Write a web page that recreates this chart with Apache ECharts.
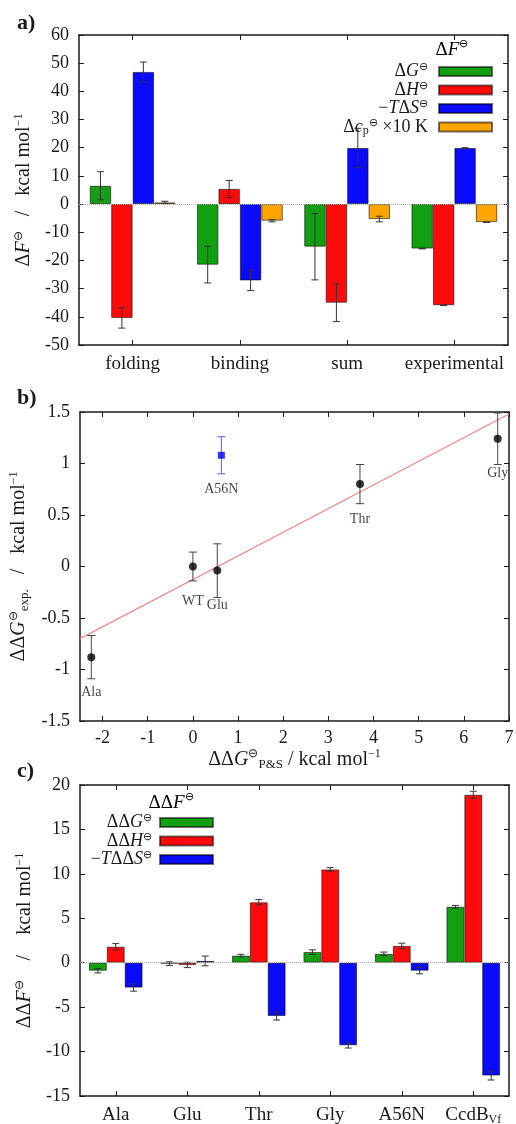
<!DOCTYPE html>
<html>
<head>
<meta charset="utf-8">
<script src="https://cdn.jsdelivr.net/npm/echarts@6/dist/echarts.min.js"></script>
<style>
  html, body { margin: 0; padding: 0; background: #fff; }
  #main { width: 516px; height: 1124px; }
</style>
</head>
<body>
<div id="main"></div>
<script>
// ---- panel a) data ----
const catsA = ['folding', 'binding', 'sum', 'experimental'];
const dG_A = [6.5, -21.5, -15.1, -15.8];
const dG_Aerr = [5.0, 6.5, 11.8, 0.1];
const dH_A = [-40.4, 5.4, -35.0, -35.9];
const dH_Aerr = [3.6, 3.0, 6.7, 0.1];
const TdS_A = [46.9, -27.1, 19.9, 19.9];
const TdS_Aerr = [3.5, 3.6, 7.0, 0.1];
const dCp_A = [0.6, -5.9, -5.3, -6.4];
const dCp_Aerr = [0.4, 0.4, 1.0, 0.1];

// ---- panel b) data ----
const ptNames = ['Ala', 'WT', 'Glu', 'Thr', 'Gly'];
const ptX = [-2.25, 0.0, 0.54, 3.70, 6.75];
const ptY = [-0.88, 0.0, -0.04, 0.80, 1.24];
const ptErr = [0.21, 0.14, 0.26, 0.19, 0.25];
const a56nName = ['A56N'];
const a56nX = [0.63];
const a56nY = [1.08];
const a56nErr = [0.18];
const fitX = [-2.5, 7];
const fitY = [-0.70, 1.48];
const xTicksB = [-2, -1, 0, 1, 2, 3, 4, 5, 6, 7];

// ---- panel c) data ----
const catsC = ['Ala', 'Glu', 'Thr', 'Gly', 'A56N', 'CcdB_Vf'];
const ddG = [-0.9, -0.1, 0.8, 1.2, 1.0, 6.3];
const ddGerr = [0.25, 0.2, 0.15, 0.25, 0.2, 0.15];
const ddH = [1.8, -0.25, 6.8, 10.5, 1.9, 18.9];
const ddHerr = [0.35, 0.3, 0.3, 0.2, 0.3, 0.4];
const TddS = [-2.8, 0.2, -6.0, -9.3, -0.9, -12.7];
const TddSerr = [0.4, 0.55, 0.45, 0.3, 0.35, 0.5];

// ---- styles ----
const FONT = 'Liberation Serif';
const INK = '#1a1a1a';
const GREEN = '#12a012', RED = '#ff0a0a', BLUE = '#0a0aff', ORANGE = '#ffa500';
const GAP_A = 0.2, GAP_C = 0.25;

function rich(size, lh) {
  lh = lh || size + 3;
  return {
    r: { fontFamily: FONT, fontSize: size, lineHeight: lh, color: INK },
    i: { fontFamily: FONT, fontSize: size, fontStyle: 'italic', lineHeight: lh, color: INK },
    sup: { fontFamily: FONT, fontSize: Math.round(size * 0.6), lineHeight: 11, verticalAlign: 'top', color: INK },
    sub: { fontFamily: FONT, fontSize: Math.round(size * 0.65), lineHeight: 10, verticalAlign: 'bottom', color: INK }
  };
}

const legendText = {
  'ΔG': '{r|Δ}{i|G}{sup|⊖}',
  'ΔH': '{r|Δ}{i|H}{sup|⊖}',
  '-TΔS': '{r|−}{i|T}{r|Δ}{i|S}{sup|⊖}',
  'Δcp': '{r|Δ}{i|c}{sub|p}{sup|⊖}{r| ×10 K}',
  'ΔΔG': '{r|ΔΔ}{i|G}{sup|⊖}',
  'ΔΔH': '{r|ΔΔ}{i|H}{sup|⊖}',
  '-TΔΔS': '{r|−}{i|T}{r|ΔΔ}{i|S}{sup|⊖}'
};

function catAxis(grid, data, pos, showLabel) {
  return {
    type: 'category', gridIndex: grid, position: pos, data: data,
    axisLine: { show: true, onZero: false, lineStyle: { color: INK, width: 1.5 } },
    axisTick: { show: true, inside: true, length: 5, alignWithLabel: true, interval: 0, lineStyle: { color: INK } },
    axisLabel: {
      show: showLabel, interval: 0, color: INK, fontFamily: FONT, fontSize: 19, margin: 8,
      formatter: v => v === 'CcdB_Vf' ? '{r|CcdB}{sub|Vf}' : '{r|' + v + '}',
      rich: rich(19)
    },
    splitLine: { show: false }
  };
}

function valAxis(grid, pos, min, max, interval, showLabel, extra) {
  return Object.assign({
    type: 'value', gridIndex: grid, position: pos, min: min, max: max, interval: interval,
    axisLine: { show: true, onZero: false, lineStyle: { color: INK, width: 1.5 } },
    axisTick: { show: true, inside: true, length: 5, lineStyle: { color: INK } },
    axisLabel: { show: showLabel, color: INK, fontFamily: FONT, fontSize: 18, margin: 10 },
    splitLine: { show: false }
  }, extra || {});
}

function errLines(x, y1, y2, cap, color) {
  const st = { stroke: color, lineWidth: 1 };
  return {
    type: 'group',
    children: [
      { type: 'line', shape: { x1: x, y1: y1, x2: x, y2: y2 }, style: st },
      { type: 'line', shape: { x1: x - cap, y1: y1, x2: x + cap, y2: y1 }, style: st },
      { type: 'line', shape: { x1: x - cap, y1: y2, x2: x + cap, y2: y2 }, style: st }
    ]
  };
}

function barErrSeries(xi, yi, vals, errs, idx, n, gap) {
  return {
    type: 'custom', xAxisIndex: xi, yAxisIndex: yi, z: 4, silent: true,
    data: vals.map((v, i) => [i, v, errs[i]]),
    encode: { x: 0, y: 1 },
    renderItem: function (params, api) {
      const ci = api.value(0), v = api.value(1), e = api.value(2);
      const band = api.size([1, 0])[0];
      const group = band * (1 - gap);
      const bw = group / n;
      const cx = api.coord([ci, 0])[0] - group / 2 + (idx + 0.5) * bw;
      const y1 = api.coord([ci, v + e])[1];
      const y2 = api.coord([ci, v - e])[1];
      return errLines(cx, y1, y2, 3.5, '#333');
    }
  };
}

function barSeries(name, xi, yi, vals, color, gap, zeroLine) {
  const s = {
    name: name, type: 'bar', xAxisIndex: xi, yAxisIndex: yi, data: vals,
    barGap: '0%', barCategoryGap: (gap * 100) + '%',
    itemStyle: { color: color, borderColor: 'rgba(0,0,0,0.55)', borderWidth: 1 }
  };
  if (zeroLine) {
    s.markLine = {
      silent: true, symbol: 'none', label: { show: false },
      lineStyle: { color: '#aaa', type: 'dotted', width: 1 },
      data: [{ yAxis: 0 }]
    };
  }
  return s;
}

function ptErrSeries(xs, ys, es, color) {
  return {
    type: 'custom', xAxisIndex: 2, yAxisIndex: 2, z: 3, silent: true, clip: false,
    data: xs.map((x, i) => [x, ys[i], es[i]]),
    encode: { x: 0, y: 1 },
    renderItem: function (params, api) {
      const x = api.value(0), y = api.value(1), e = api.value(2);
      const p1 = api.coord([x, y + e]);
      const p2 = api.coord([x, y - e]);
      return errLines(p1[0], p1[1], p2[1], 4, color);
    }
  };
}

const labelB = {
  show: true, position: 'bottom', distance: 24, color: '#111',
  fontFamily: FONT, fontSize: 14
};

const option = {
  animation: false,
  backgroundColor: '#fff',
  textStyle: { fontFamily: FONT },
  grid: [
    { left: 79, right: 8, top: 35, height: 310, containLabel: false, outerBoundsMode: 'none' },
    { left: 80, right: 7, top: 412, height: 309, containLabel: false, outerBoundsMode: 'none' },
    { left: 80, right: 7, top: 785, height: 311, containLabel: false, outerBoundsMode: 'none' }
  ],
  xAxis: [
    catAxis(0, catsA, 'bottom', true),
    catAxis(0, catsA, 'top', false),
    valAxis(1, 'bottom', -2.5, 7, null, true, {
      axisTick: { show: true, inside: true, length: 5, lineStyle: { color: INK }, customValues: xTicksB },
      axisLabel: { show: true, color: INK, fontFamily: FONT, fontSize: 18, margin: 8, customValues: xTicksB },
      name: '{r|ΔΔ}{i|G}{sup|⊖}{sub|P&S}{r| / kcal mol}{sup|−1}',
      nameLocation: 'middle', nameGap: 24,
      nameTextStyle: { rich: rich(20) }
    }),
    valAxis(1, 'top', -2.5, 7, null, false, {
      axisTick: { show: true, inside: true, length: 5, lineStyle: { color: INK }, customValues: xTicksB }
    }),
    catAxis(2, catsC, 'bottom', true),
    catAxis(2, catsC, 'top', false)
  ],
  yAxis: [
    valAxis(0, 'left', -50, 60, 10, true, {
      name: '{r|Δ}{i|F}{sup|⊖}{r|   /   kcal mol}{sup|−1}',
      nameLocation: 'middle', nameGap: 42, nameTextStyle: { rich: rich(20) }
    }),
    valAxis(0, 'right', -50, 60, 10, false),
    valAxis(1, 'left', -1.5, 1.5, 0.5, true, {
      name: '{r|ΔΔ}{i|G}{sup|⊖}{sub|exp.}{r|   /   kcal mol}{sup|−1}',
      nameLocation: 'middle', nameGap: 42, nameTextStyle: { rich: rich(20) }
    }),
    valAxis(1, 'right', -1.5, 1.5, 0.5, false),
    valAxis(2, 'left', -15, 20, 5, true, {
      name: '{r|ΔΔ}{i|F}{sup|⊖}{r|    /    kcal mol}{sup|−1}',
      nameLocation: 'middle', nameGap: 42, nameTextStyle: { rich: rich(20) }
    }),
    valAxis(2, 'right', -15, 20, 5, false)
  ],
  legend: [
    {
      data: ['ΔG', 'ΔH', '-TΔS', 'Δcp'], orient: 'vertical', align: 'right',
      right: 18, top: 57, itemWidth: 53, itemHeight: 9, itemGap: 0, icon: 'rect',
      selectedMode: false, formatter: n => legendText[n],
      textStyle: { rich: rich(18, 19), padding: [0, 6, 0, 0] }
    },
    {
      data: ['ΔΔG', 'ΔΔH', '-TΔΔS'], orient: 'vertical', align: 'right',
      right: 297, top: 808, itemWidth: 53, itemHeight: 9, itemGap: 0, icon: 'rect',
      selectedMode: false, formatter: n => legendText[n],
      textStyle: { rich: rich(18, 19), padding: [0, 3, 0, 0] }
    }
  ],
  graphic: [
    { type: 'text', x: 17, y: 12, style: { text: 'a)', font: 'bold 22px "Liberation Serif"', fill: INK } },
    { type: 'text', x: 17, y: 387, style: { text: 'b)', font: 'bold 22px "Liberation Serif"', fill: INK } },
    { type: 'text', x: 17, y: 760, style: { text: 'c)', font: 'bold 22px "Liberation Serif"', fill: INK } },
    { type: 'text', x: 452, y: 50, style: { text: '{r|Δ}{i|F}{sup|⊖}', rich: rich(19), align: 'center', verticalAlign: 'middle' } },
    { type: 'text', x: 171, y: 803, style: { text: '{r|ΔΔ}{i|F}{sup|⊖}', rich: rich(19), align: 'center', verticalAlign: 'middle' } }
  ],
  series: [
    // panel a
    barSeries('ΔG', 0, 0, dG_A, GREEN, GAP_A, true),
    barSeries('ΔH', 0, 0, dH_A, RED, GAP_A),
    barSeries('-TΔS', 0, 0, TdS_A, BLUE, GAP_A),
    barSeries('Δcp', 0, 0, dCp_A, ORANGE, GAP_A),
    barErrSeries(0, 0, dG_A, dG_Aerr, 0, 4, GAP_A),
    barErrSeries(0, 0, dH_A, dH_Aerr, 1, 4, GAP_A),
    barErrSeries(0, 0, TdS_A, TdS_Aerr, 2, 4, GAP_A),
    barErrSeries(0, 0, dCp_A, dCp_Aerr, 3, 4, GAP_A),
    // panel b
    {
      type: 'line', xAxisIndex: 2, yAxisIndex: 2, showSymbol: false, silent: true, z: 1,
      data: fitX.map((x, i) => [x, fitY[i]]),
      lineStyle: { color: '#ec8a8a', width: 1.2 }
    },
    ptErrSeries(ptX, ptY, ptErr, '#444'),
    ptErrSeries(a56nX, a56nY, a56nErr, '#5a5aff'),
    {
      type: 'scatter', xAxisIndex: 2, yAxisIndex: 2, symbol: 'circle', symbolSize: 8, z: 5,
      data: ptX.map((x, i) => [x, ptY[i]]),
      itemStyle: { color: '#000' },
      label: Object.assign({ formatter: p => ptNames[p.dataIndex] }, labelB)
    },
    {
      type: 'scatter', xAxisIndex: 2, yAxisIndex: 2, symbol: 'rect', symbolSize: 7, z: 5,
      data: a56nX.map((x, i) => [x, a56nY[i]]),
      itemStyle: { color: '#0000ff' },
      label: Object.assign({ formatter: p => a56nName[p.dataIndex] }, labelB)
    },
    // panel c
    barSeries('ΔΔG', 4, 4, ddG, GREEN, GAP_C, true),
    barSeries('ΔΔH', 4, 4, ddH, RED, GAP_C),
    barSeries('-TΔΔS', 4, 4, TddS, BLUE, GAP_C),
    barErrSeries(4, 4, ddG, ddGerr, 0, 3, GAP_C),
    barErrSeries(4, 4, ddH, ddHerr, 1, 3, GAP_C),
    barErrSeries(4, 4, TddS, TddSerr, 2, 3, GAP_C)
  ]
};

const chart = echarts.init(document.getElementById('main'), null, { renderer: 'canvas' });
chart.setOption(option);
</script>
</body>
</html>
